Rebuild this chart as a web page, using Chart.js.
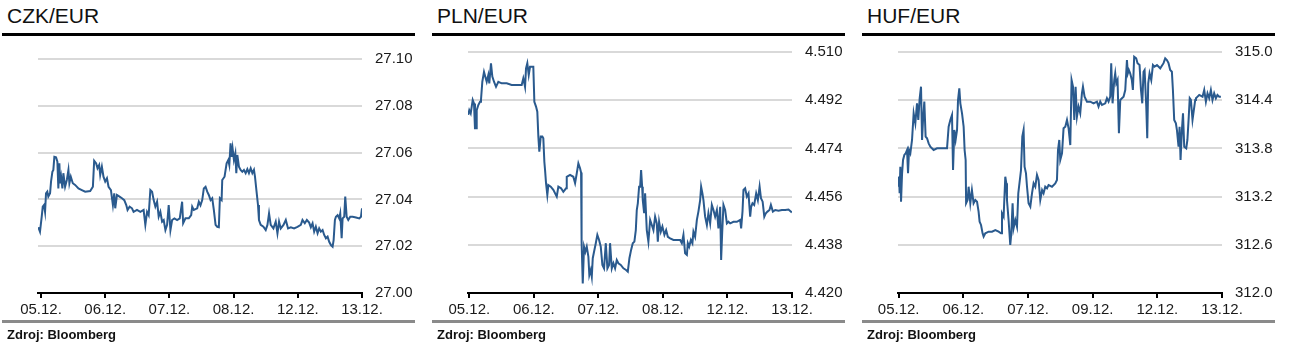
<!DOCTYPE html>
<html><head><meta charset="utf-8">
<script src="https://cdn.jsdelivr.net/npm/chart.js@4.4.0/dist/chart.umd.min.js"></script>
<style>
html,body{margin:0;padding:0;background:#fff;width:1290px;height:357px;overflow:hidden;font-family:"Liberation Sans",Arial,sans-serif;}
.panel{position:absolute;top:0;width:430px;height:357px;}
.panel canvas{position:absolute;left:0;top:0;}
.title{position:absolute;left:7px;top:5px;font-size:21px;line-height:21px;color:#111;white-space:nowrap;}
.rule{position:absolute;left:2px;top:33px;width:413px;height:3px;background:#000;}
.foot{position:absolute;left:2px;top:320px;width:413px;height:3px;background:#8a8a8a;}
.src{position:absolute;left:7px;top:328px;font-size:13px;line-height:13px;font-weight:bold;color:#111;white-space:nowrap;}
</style></head>
<body>
<div class="panel" id="p0" style="left:0px"><div class="title">CZK/EUR</div><div class="rule"></div><canvas id="c0" width="430" height="357"></canvas><div class="foot"></div><div class="src">Zdroj: Bloomberg</div></div>
<div class="panel" id="p1" style="left:430px"><div class="title">PLN/EUR</div><div class="rule"></div><canvas id="c1" width="430" height="357"></canvas><div class="foot"></div><div class="src">Zdroj: Bloomberg</div></div>
<div class="panel" id="p2" style="left:860px"><div class="title">HUF/EUR</div><div class="rule"></div><canvas id="c2" width="430" height="357"></canvas><div class="foot"></div><div class="src">Zdroj: Bloomberg</div></div>
<script>
// ---- data: [trading-day index, rate] ----
const czkDates = ['05.12.','06.12.','07.12.','08.12.','12.12.','13.12.'];
const plnDates = ['05.12.','06.12.','07.12.','08.12.','12.12.','13.12.'];
const hufDates = ['05.12.','06.12.','07.12.','09.12.','12.12.','13.12.'];

const czkTicks = [27.00,27.02,27.04,27.06,27.08,27.10];
const czkTickLabels = ['27.00','27.02','27.04','27.06','27.08','27.10'];
const plnTicks = [4.420,4.438,4.456,4.474,4.492,4.510];
const plnTickLabels = ['4.420','4.438','4.456','4.474','4.492','4.510'];
const hufTicks = [312.0,312.6,313.2,313.8,314.4,315.0];
const hufTickLabels = ['312.0','312.6','313.2','313.8','314.4','315.0'];

const czkSeries = [[-0.042,27.0281],[-0.016,27.0262],[0.011,27.0326],[0.027,27.0369],[0.047,27.0376],[0.063,27.0347],[0.078,27.0426],[0.098,27.0433],[0.114,27.0412],[0.141,27.0426],[0.156,27.0476],[0.177,27.0518],[0.192,27.0526],[0.208,27.0582],[0.234,27.0580],[0.255,27.0561],[0.270,27.0447],[0.286,27.0554],[0.297,27.0469],[0.313,27.0497],[0.333,27.0447],[0.348,27.0512],[0.375,27.0454],[0.402,27.0483],[0.427,27.0526],[0.442,27.0469],[0.464,27.0497],[0.495,27.0469],[0.531,27.0462],[0.583,27.0447],[0.636,27.0440],[0.688,27.0433],[0.766,27.0436],[0.808,27.0454],[0.828,27.0565],[0.859,27.0554],[0.880,27.0533],[0.906,27.0547],[0.922,27.0504],[0.948,27.0540],[0.973,27.0497],[1.000,27.0476],[1.027,27.0490],[1.052,27.0454],[1.089,27.0440],[1.120,27.0376],[1.141,27.0426],[1.156,27.0362],[1.183,27.0419],[1.223,27.0412],[1.261,27.0405],[1.297,27.0397],[1.328,27.0376],[1.348,27.0355],[1.380,27.0369],[1.417,27.0362],[1.442,27.0347],[1.495,27.0355],[1.547,27.0347],[1.598,27.0355],[1.625,27.0291],[1.652,27.0347],[1.677,27.0333],[1.703,27.0440],[1.730,27.0433],[1.755,27.0397],[1.781,27.0369],[1.808,27.0390],[1.833,27.0326],[1.859,27.0347],[1.886,27.0305],[1.911,27.0312],[1.938,27.0269],[1.964,27.0291],[1.989,27.0376],[2.016,27.0269],[2.042,27.0312],[2.078,27.0319],[2.120,27.0312],[2.161,27.0319],[2.198,27.0390],[2.214,27.0298],[2.250,27.0319],[2.302,27.0319],[2.339,27.0333],[2.355,27.0369],[2.380,27.0355],[2.433,27.0362],[2.458,27.0390],[2.484,27.0375],[2.511,27.0397],[2.536,27.0447],[2.563,27.0454],[2.589,27.0433],[2.614,27.0419],[2.641,27.0397],[2.667,27.0405],[2.692,27.0355],[2.719,27.0291],[2.745,27.0283],[2.770,27.0281],[2.786,27.0405],[2.813,27.0397],[2.823,27.0483],[2.859,27.0497],[2.891,27.0554],[2.917,27.0568],[2.933,27.0547],[2.953,27.0640],[2.969,27.0582],[2.984,27.0618],[3.005,27.0568],[3.027,27.0597],[3.042,27.0512],[3.058,27.0590],[3.083,27.0540],[3.109,27.0526],[3.136,27.0518],[3.161,27.0526],[3.188,27.0512],[3.214,27.0529],[3.239,27.0512],[3.266,27.0533],[3.292,27.0512],[3.317,27.0526],[3.333,27.0497],[3.355,27.0440],[3.380,27.0376],[3.395,27.0312],[3.422,27.0291],[3.464,27.0283],[3.500,27.0269],[3.527,27.0291],[3.552,27.0340],[3.578,27.0291],[3.620,27.0276],[3.656,27.0305],[3.683,27.0255],[3.708,27.0305],[3.734,27.0276],[3.777,27.0291],[3.813,27.0312],[3.848,27.0276],[3.891,27.0281],[3.942,27.0276],[3.995,27.0283],[4.047,27.0291],[4.073,27.0312],[4.109,27.0298],[4.141,27.0312],[4.177,27.0301],[4.203,27.0281],[4.230,27.0298],[4.255,27.0262],[4.281,27.0283],[4.308,27.0255],[4.333,27.0276],[4.359,27.0262],[4.386,27.0269],[4.411,27.0248],[4.438,27.0234],[4.464,27.0241],[4.489,27.0219],[4.516,27.0205],[4.542,27.0198],[4.558,27.0226],[4.578,27.0312],[4.594,27.0326],[4.620,27.0333],[4.645,27.0319],[4.661,27.0340],[4.683,27.0234],[4.698,27.0319],[4.723,27.0326],[4.739,27.0412],[4.761,27.0326],[4.786,27.0312],[4.817,27.0326],[4.855,27.0326],[4.906,27.0323],[4.958,27.0319],[4.984,27.0326],[5.000,27.0362]];

const plnSeries = [[-0.016,4.4865],[0,4.4883],[0.022,4.4871],[0.053,4.4921],[0.073,4.4908],[0.088,4.4815],[0.104,4.4815],[0.115,4.4883],[0.140,4.4902],[0.166,4.4914],[0.181,4.4921],[0.202,4.4989],[0.228,4.5026],[0.248,4.5008],[0.270,4.4989],[0.295,4.5014],[0.310,4.4983],[0.336,4.5058],[0.357,4.5008],[0.383,4.4989],[0.414,4.4970],[0.450,4.4989],[0.502,4.4983],[0.580,4.4983],[0.657,4.4977],[0.735,4.4977],[0.812,4.4977],[0.837,4.5002],[0.864,4.4970],[0.879,4.5039],[0.899,4.5058],[0.921,4.5014],[0.941,4.5045],[0.967,4.5045],[0.992,4.5045],[1.008,4.4914],[1.034,4.4896],[1.054,4.4877],[1.070,4.4784],[1.085,4.4728],[1.107,4.4784],[1.132,4.4784],[1.147,4.4778],[1.163,4.4690],[1.174,4.4659],[1.189,4.4610],[1.209,4.4566],[1.225,4.4603],[1.262,4.4597],[1.302,4.4585],[1.355,4.4560],[1.380,4.4597],[1.422,4.4591],[1.457,4.4578],[1.499,4.4591],[1.510,4.4634],[1.561,4.4641],[1.612,4.4634],[1.639,4.4610],[1.665,4.4647],[1.690,4.4684],[1.716,4.4666],[1.732,4.4650],[1.737,4.4398],[1.743,4.4392],[1.758,4.4236],[1.778,4.4373],[1.798,4.4354],[1.820,4.4373],[1.845,4.4336],[1.860,4.4267],[1.882,4.4286],[1.898,4.4261],[1.913,4.4330],[1.933,4.4354],[1.960,4.4386],[1.984,4.4417],[2.011,4.4398],[2.037,4.4373],[2.062,4.4305],[2.088,4.4292],[2.115,4.4386],[2.140,4.4292],[2.166,4.4305],[2.181,4.4386],[2.208,4.4292],[2.233,4.4311],[2.259,4.4292],[2.285,4.4323],[2.310,4.4311],[2.347,4.4305],[2.388,4.4292],[2.429,4.4286],[2.456,4.4280],[2.481,4.4330],[2.507,4.4361],[2.533,4.4386],[2.558,4.4392],[2.580,4.4435],[2.595,4.4510],[2.611,4.4535],[2.631,4.4597],[2.647,4.4597],[2.662,4.4659],[2.678,4.4597],[2.688,4.4547],[2.709,4.4498],[2.724,4.4572],[2.750,4.4435],[2.775,4.4392],[2.802,4.4473],[2.828,4.4454],[2.853,4.4435],[2.879,4.4485],[2.905,4.4460],[2.921,4.4392],[2.941,4.4466],[2.967,4.4429],[2.992,4.4448],[3.023,4.4417],[3.050,4.4435],[3.076,4.4410],[3.112,4.4404],[3.163,4.4398],[3.216,4.4398],[3.267,4.4398],[3.293,4.4386],[3.318,4.4417],[3.344,4.4348],[3.371,4.4342],[3.386,4.4386],[3.407,4.4373],[3.433,4.4398],[3.457,4.4386],[3.473,4.4429],[3.499,4.4410],[3.526,4.4473],[3.550,4.4504],[3.577,4.4547],[3.592,4.4597],[3.612,4.4572],[3.628,4.4547],[3.654,4.4485],[3.681,4.4454],[3.705,4.4498],[3.732,4.4460],[3.758,4.4529],[3.783,4.4510],[3.809,4.4485],[3.836,4.4510],[3.860,4.4441],[3.887,4.4522],[3.902,4.4323],[3.918,4.4423],[3.938,4.4529],[3.964,4.4510],[3.991,4.4460],[4.016,4.4466],[4.042,4.4460],[4.093,4.4466],[4.146,4.4466],[4.197,4.4473],[4.212,4.4441],[4.233,4.4504],[4.248,4.4585],[4.274,4.4591],[4.301,4.4560],[4.326,4.4572],[4.352,4.4485],[4.367,4.4522],[4.388,4.4535],[4.414,4.4529],[4.445,4.4572],[4.471,4.4547],[4.498,4.4597],[4.519,4.4554],[4.545,4.4541],[4.571,4.4485],[4.595,4.4498],[4.620,4.4504],[4.651,4.4510],[4.673,4.4529],[4.704,4.4504],[4.740,4.4510],[4.791,4.4507],[4.843,4.4510],[4.895,4.4510],[4.946,4.4512],[4.998,4.4501]];

const hufSeries = [[-0.009,313.323],[0.006,313.448],[0.015,313.241],[0.026,313.572],[0.037,313.137],[0.053,313.490],[0.068,313.656],[0.088,313.718],[0.108,313.739],[0.130,313.780],[0.145,313.490],[0.161,313.780],[0.181,313.739],[0.207,313.905],[0.232,314.237],[0.258,314.112],[0.284,314.361],[0.304,314.154],[0.325,314.424],[0.346,314.568],[0.362,313.905],[0.377,314.154],[0.397,314.382],[0.417,313.946],[0.439,313.926],[0.464,313.863],[0.490,313.821],[0.541,313.780],[0.594,313.801],[0.671,313.801],[0.748,313.801],[0.773,314.070],[0.799,314.154],[0.825,314.216],[0.841,313.531],[0.861,314.029],[0.881,313.905],[0.903,314.029],[0.918,314.403],[0.938,314.548],[0.954,314.361],[0.980,314.237],[1.005,314.070],[1.020,313.780],[1.036,313.656],[1.043,313.117],[1.066,313.158],[1.082,313.323],[1.108,313.117],[1.133,313.282],[1.159,313.117],[1.185,313.158],[1.212,313.137],[1.236,313.012],[1.252,312.888],[1.274,312.847],[1.298,312.743],[1.314,312.701],[1.340,312.743],[1.391,312.763],[1.444,312.763],[1.495,312.784],[1.546,312.763],[1.583,312.743],[1.598,312.992],[1.623,312.950],[1.649,313.448],[1.665,313.365],[1.675,313.158],[1.700,312.909],[1.726,312.598],[1.742,312.743],[1.762,313.117],[1.777,312.805],[1.804,312.909],[1.830,312.825],[1.850,313.241],[1.892,313.531],[1.912,313.946],[1.932,314.029],[1.947,313.572],[1.969,313.490],[1.985,313.323],[2.009,313.117],[2.036,313.074],[2.062,313.241],[2.087,313.365],[2.113,313.323],[2.139,313.469],[2.164,313.407],[2.190,313.158],[2.218,313.282],[2.241,313.241],[2.267,313.323],[2.294,313.303],[2.318,313.344],[2.371,313.323],[2.422,313.365],[2.448,313.407],[2.464,313.780],[2.484,313.905],[2.499,313.656],[2.526,313.739],[2.550,314.050],[2.577,314.070],[2.603,314.154],[2.628,314.050],[2.654,313.842],[2.674,314.651],[2.696,314.568],[2.716,314.154],[2.736,314.568],[2.757,314.195],[2.782,314.320],[2.808,314.237],[2.834,314.486],[2.850,314.568],[2.875,314.444],[2.912,314.382],[2.963,314.382],[3.014,314.361],[3.066,314.382],[3.091,314.320],[3.117,314.382],[3.144,314.340],[3.195,314.361],[3.221,314.424],[3.246,314.382],[3.272,314.444],[3.287,314.861],[3.308,314.361],[3.334,314.651],[3.349,314.734],[3.365,314.610],[3.385,314.651],[3.406,313.988],[3.427,314.403],[3.453,314.424],[3.478,314.444],[3.504,314.527],[3.530,314.900],[3.544,314.734],[3.560,314.776],[3.580,314.734],[3.606,314.651],[3.622,314.527],[3.642,314.941],[3.673,314.921],[3.694,314.861],[3.725,314.838],[3.747,314.527],[3.767,314.361],[3.787,314.755],[3.803,314.776],[3.829,314.320],[3.844,313.926],[3.859,314.610],[3.880,314.734],[3.906,314.651],[3.932,314.838],[3.957,314.817],[3.994,314.838],[4.045,314.797],[4.096,314.861],[4.122,314.921],[4.148,314.900],[4.173,314.861],[4.199,314.776],[4.225,314.755],[4.241,314.527],[4.261,314.154],[4.287,314.112],[4.303,314.029],[4.328,313.821],[4.344,314.070],[4.359,313.656],[4.380,314.029],[4.397,314.237],[4.416,313.821],[4.447,313.801],[4.465,313.905],[4.486,314.195],[4.501,314.424],[4.519,314.403],[4.544,314.154],[4.586,314.403],[4.597,314.424],[4.622,314.444],[4.648,314.465],[4.699,314.444],[4.725,314.527],[4.751,314.382],[4.776,314.486],[4.802,314.424],[4.828,314.527],[4.853,314.403],[4.879,314.486],[4.905,314.424],[4.930,314.465],[4.957,314.444],[4.983,314.444]];

// ---- rendering ----
Chart.defaults.font.family = '"Liberation Sans", Arial, sans-serif';
const LINE = '#2a5a8e';
const TEXT = '#1a1a1a';

function buildPanel(canvasId, series, yTicks, yLabels, xLabels, xMin, topPad){
  new Chart(document.getElementById(canvasId), {
    type: 'line',
    data: { datasets: [{
      data: series.map(p => ({x: p[0], y: p[1]})),
      borderColor: LINE, borderWidth: 2, pointRadius: 0, tension: 0, fill: false
    }]},
    options: {
      responsive: false, animation: false, devicePixelRatio: 1,
      layout: { padding: { left: 38, top: topPad, right: 0, bottom: 34 } },
      plugins: { legend: { display: false }, tooltip: { enabled: false } },
      scales: {
        x: {
          type: 'linear', min: xMin, max: xLabels.length - 1,
          afterBuildTicks: s => { s.ticks = xLabels.map((_, i) => ({ value: i })); },
          afterFit: s => { s.height = 30; },
          ticks: { autoSkip: false, maxRotation: 0, padding: 3, color: TEXT,
                   font: { size: 15 }, callback: (v, i) => xLabels[i] },
          grid: { drawOnChartArea: false, drawTicks: true, tickLength: 5, color: '#000', lineWidth: 2 },
          border: { display: true, color: '#000', width: 2 }
        },
        y: {
          position: 'right', min: yTicks[0], max: yTicks[yTicks.length - 1],
          afterBuildTicks: s => { s.ticks = yTicks.map(v => ({ value: v })); },
          afterFit: s => { s.width = 68; },
          ticks: { padding: 13, color: TEXT, font: { size: 15 }, callback: (v, i) => yLabels[i] },
          grid: { drawTicks: false, lineWidth: 2,
                  color: c => c.index === 0 ? 'rgba(0,0,0,0)' : '#d9d9d9' },
          border: { display: false }
        }
      }
    }
  });
}

buildPanel('c0', czkSeries, czkTicks, czkTickLabels, czkDates, -0.047, 59);
buildPanel('c1', plnSeries, plnTicks, plnTickLabels, plnDates, -0.02, 52);
buildPanel('c2', hufSeries, hufTicks, hufTickLabels, hufDates, -0.01, 52);
</script>
</body></html>
